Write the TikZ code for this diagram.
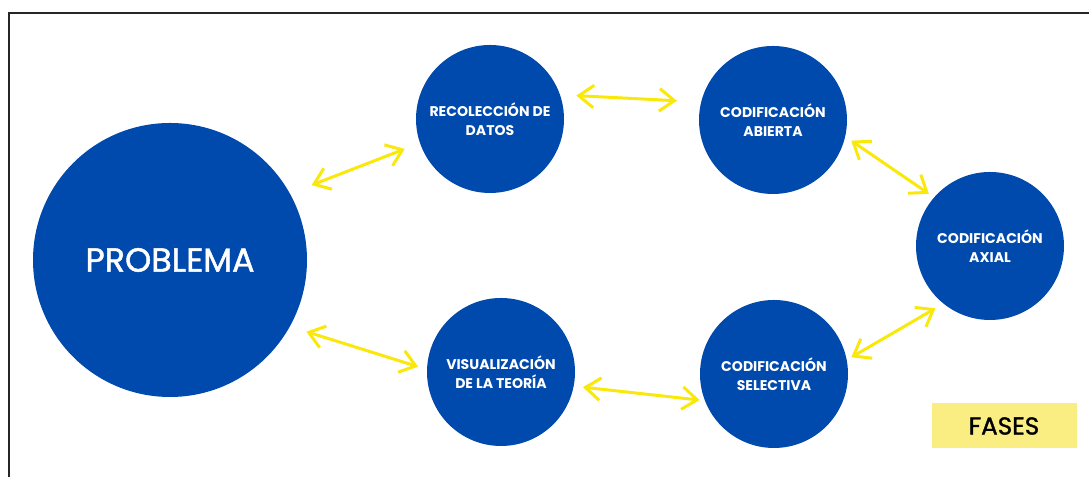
\documentclass[tikz,border=0pt]{standalone}
\usepackage{fontspec}
\setmainfont{Poppins}
\newfontfamily\medio{Poppins}[FakeBold=1.3]
\usetikzlibrary{arrows.meta}

\definecolor{azul}{RGB}{0,74,173}
\definecolor{amarillo}{RGB}{250,232,10}
\definecolor{resalte}{RGB}{250,238,130}

\begin{document}
\begin{tikzpicture}[> = {Straight Barb[length=3mm,width=4.5mm]}, auto]
            \tikzstyle{fase}=[circle, fill=azul, text=white, inner sep=0pt, minimum size=2.96cm, align=center, font=\bfseries\fontsize{8}{10.8}\selectfont]
            \tikzstyle{flecha}=[<->, line width=1.7pt, draw=amarillo]

                        \useasboundingbox (0,0) rectangle (21.78,9.54);

                        % Marco
                        \draw[line width=1.1pt, black!85] (0.18,0) -- (0.18,9.28) -- (21.78,9.28);

                        % Círculos
                        \node[fase, minimum size=5.48cm, font=\medio\fontsize{19}{21}\selectfont] (prob) at (3.40,4.34) {PROBLEMA};
                        \node[fase] (recol) at (9.80,7.16) {RECOLECCIÓN DE\\DATOS};
                        \node[fase] (abierta) at (15.46,7.14) {CODIFICACIÓN\\ABIERTA};
                        \node[fase] (axial) at (19.80,4.62) {CODIFICACIÓN\\AXIAL};
                        \node[fase] (selec) at (15.48,2.06) {CODIFICACIÓN\\SELECTIVA};
                        \node[fase] (visual) at (10.02,2.10) {VISUALIZACIÓN\\DE LA TEORÍA};

                        % Etiqueta
                        \node[fill=resalte, minimum width=2.9cm, minimum height=0.9cm, font=\medio\fontsize{14}{16}\selectfont] (fases) at (20.08,1.02) {FASES};

                        % Flechas
                        \draw[flecha, shorten <=0.46cm, shorten >=0.32cm] (prob.29) -- (recol.199);
                        \draw[flecha, shorten <=0.32cm, shorten >=0.48cm] (recol.19) -- (abierta.166);
                        \draw[flecha, shorten <=0.14cm, shorten >=0.12cm] (abierta.-13) -- (axial.139);
                        \draw[flecha, shorten <=0.18cm, shorten >=0.10cm] (axial.231) -- (selec.11);
                        \draw[flecha, shorten <=0.10cm, shorten >=0.18cm] (selec.201) -- (visual.-11);
                        \draw[flecha, shorten <=0.34cm, shorten >=0.18cm] (prob.-29) -- (visual.178);
                  \end{tikzpicture}
\end{document}
